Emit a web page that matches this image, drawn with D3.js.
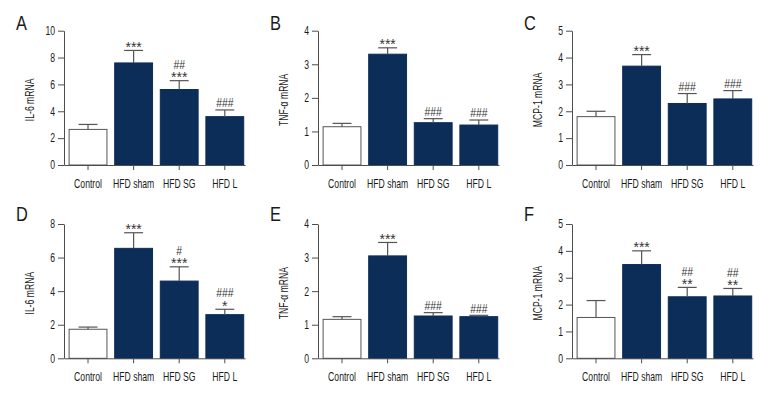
<!DOCTYPE html>
<html>
<head>
<meta charset="utf-8">
<script src="https://cdn.jsdelivr.net/npm/d3@7"></script>
<style>
  body { margin: 0; background: #fff; }
  svg text { font-family: "Liberation Sans", Arial, sans-serif; fill: #1a1a1a; }
</style>
</head>
<body>
<div id="chart"></div>
<script>
// groups on the x axis
var groups = ["Control", "HFD sham", "HFD SG", "HFD L"];

// panel A-C (top row) means and error (SEM)
var il6A = [2.65, 7.6, 5.62, 3.6];
var il6ASem = [0.37, 0.93, 0.66, 0.5];
var tnfB = [1.14, 3.3, 1.26, 1.19];
var tnfBSem = [0.1, 0.19, 0.12, 0.15];
var mcpC = [1.8, 3.68, 2.29, 2.46];
var mcpCSem = [0.2, 0.43, 0.37, 0.31];

// panel D-F (bottom row)
var il6D = [1.73, 6.55, 4.6, 2.6];
var il6DSem = [0.13, 0.93, 0.85, 0.32];
var tnfE = [1.16, 3.05, 1.26, 1.24];
var tnfESem = [0.08, 0.4, 0.1, 0.04];
var mcpF = [1.52, 3.49, 2.29, 2.32];
var mcpFSem = [0.63, 0.51, 0.35, 0.28];

// significance marks, bottom line first
var marksA = [[], ["***"], ["***", "##"], ["###"]];
var marksB = [[], ["***"], ["###"], ["###"]];
var marksC = [[], ["***"], ["###"], ["###"]];
var marksD = [[], ["***"], ["***", "#"], ["*", "###"]];
var marksE = [[], ["***"], ["###"], ["###"]];
var marksF = [[], ["***"], ["**", "##"], ["**", "##"]];

// y axis maxima and tick steps
var yMaxA = 10, yMaxB = 4, yMaxC = 5, yMaxD = 8, yMaxE = 4, yMaxF = 5;
var tickStepA = 2, tickStepB = 1, tickStepC = 1, tickStepD = 2, tickStepE = 1, tickStepF = 1;

var panels = [
  {letter: "A", title: "IL-6 mRNA",  vals: il6A, sem: il6ASem, marks: marksA, yMax: yMaxA, step: tickStepA, col: 0, row: 0},
  {letter: "B", title: "TNF-α mRNA", vals: tnfB, sem: tnfBSem, marks: marksB, yMax: yMaxB, step: tickStepB, col: 1, row: 0},
  {letter: "C", title: "MCP-1 mRNA", vals: mcpC, sem: mcpCSem, marks: marksC, yMax: yMaxC, step: tickStepC, col: 2, row: 0},
  {letter: "D", title: "IL-6 mRNA",  vals: il6D, sem: il6DSem, marks: marksD, yMax: yMaxD, step: tickStepD, col: 0, row: 1},
  {letter: "E", title: "TNF-α mRNA", vals: tnfE, sem: tnfESem, marks: marksE, yMax: yMaxE, step: tickStepE, col: 1, row: 1},
  {letter: "F", title: "MCP-1 mRNA", vals: mcpF, sem: mcpFSem, marks: marksF, yMax: yMaxF, step: tickStepF, col: 2, row: 1}
];

var navy = "#0b2d58";
var axisColor = "#4d4d4d";
var squeeze = 0.72; // no condensed font installed, so narrow the text by hand

// layout of the grid
var colX = [64, 318, 572];
var rowTop = [30.7, 224];
var rowBottom = [165, 358.3];
var plotW = 181;

var svg = d3.select("#chart")
  .append("svg")
    .attr("width", 780)
    .attr("height", 408);

// text placed at (x,y) and squeezed horizontally
function narrowText(parent, x, y, str, size, sq, extra) {
  return parent.append("text")
    .attr("transform", "translate(" + x + "," + y + ")" + (extra || "") + " scale(" + sq + ",1)")
    .style("font-size", size)
    .text(str);
}

panels.forEach(function(p) {
  var x0 = colX[p.col], yT = rowTop[p.row], yB = rowBottom[p.row];
  var g = svg.append("g").attr("transform", "translate(" + x0 + ",0)");

  var x = d3.scaleBand()
    .domain(groups)
    .range([0, plotW])
    .paddingInner(0.17)
    .paddingOuter(0.07)
    .align(0.8);

  var y = d3.scaleLinear()
    .domain([0, p.yMax])
    .range([yB, yT]);

  // bars
  g.selectAll(".bar")
    .data(groups)
    .enter()
    .append("rect")
      .attr("x", function(d) { return x(d); })
      .attr("width", x.bandwidth())
      .attr("y", function(d, i) { return y(p.vals[i]); })
      .attr("height", function(d, i) { return yB - y(p.vals[i]); })
      .style("fill", function(d, i) { return i == 0 ? "#fff" : navy; })
      .style("stroke", function(d, i) { return i == 0 ? "#555" : navy; })
      .style("stroke-width", 1);

  // error bars (upper only)
  var capW = x.bandwidth() / 2;
  groups.forEach(function(d, i) {
    var cx = x(d) + x.bandwidth() / 2;
    var top = y(p.vals[i] + p.sem[i]);
    g.append("line")
      .attr("x1", cx).attr("x2", cx)
      .attr("y1", y(p.vals[i])).attr("y2", top)
      .style("stroke", "#555").style("stroke-width", 1.2);
    g.append("line")
      .attr("x1", cx - capW / 2).attr("x2", cx + capW / 2)
      .attr("y1", top).attr("y2", top)
      .style("stroke", "#555").style("stroke-width", 1.2);

    // significance marks
    p.marks[i].forEach(function(m, k) {
      var isStar = m.charAt(0) == "*";
      var base = isStar ? top + 1.5 : top - 2.8 - k * 9;
      narrowText(g, cx, base, m, isStar ? "14px" : "13px", isStar ? 1 : 0.8)
        .attr("text-anchor", "middle")
        .style("fill", "#333");
    });
  });

  // x axis
  var xAxis = g.append("g")
    .attr("transform", "translate(0," + yB + ")")
    .call(d3.axisBottom(x).tickSize(5).tickSizeOuter(0));
  xAxis.selectAll("text")
    .attr("dy", null)
    .attr("y", null)
    .attr("transform", "translate(0,23) scale(" + squeeze + ",1)")
    .style("font-size", "12px");

  // y axis
  var ticks = d3.range(0, p.yMax + 0.001, p.step);
  var yAxis = g.append("g")
    .call(d3.axisLeft(y).tickValues(ticks).tickSize(6).tickSizeOuter(0).tickFormat(d3.format("d")));
  yAxis.selectAll("text")
    .attr("x", null)
    .attr("transform", "translate(-9,0) scale(" + squeeze + ",1)")
    .style("font-size", "12px");

  [xAxis, yAxis].forEach(function(a) {
    a.select(".domain").style("stroke", axisColor);
    a.selectAll(".tick line").style("stroke", axisColor);
    a.selectAll("text").style("fill", "#1a1a1a").style("font-family", null);
  });

  // y axis title
  narrowText(g, -34, (yT + yB) / 2 + 2, p.title, "12px", squeeze, " rotate(-90)")
    .attr("text-anchor", "middle")
    .attr("dy", "0.35em");

  // panel letter
  narrowText(svg, x0 - 48, p.row == 0 ? 30 : 221, p.letter, "20px", 0.82);
});
</script>
</body>
</html>
